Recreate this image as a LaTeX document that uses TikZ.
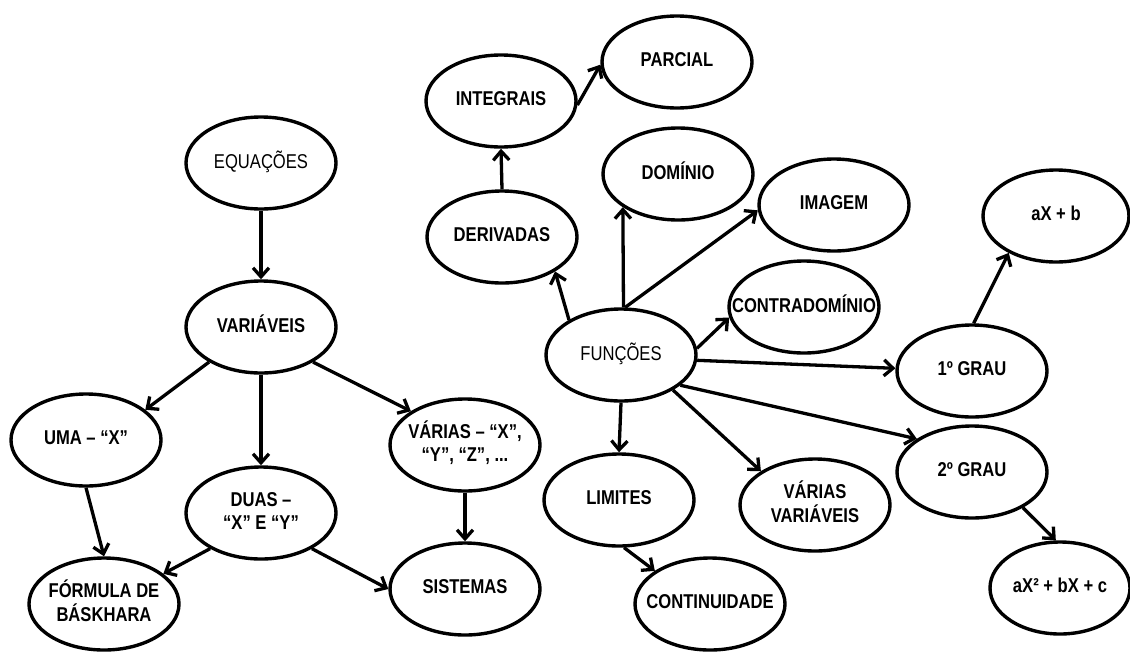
\documentclass[tikz,border=0pt]{standalone}
\usepackage{fontspec}
\setmainfont{Liberation Sans}[FakeStretch=0.83]
\usetikzlibrary{shapes.geometric,arrows.meta}
% label text of fixed-size bubbles: zero width, so the ellipse keeps its size
\newcommand{\lbl}[1]{\makebox[0pt]{\begin{tabular}{@{}c@{}}#1\end{tabular}}}
\tikzset{
  bubble/.style={ellipse, draw, line width=3.4pt, minimum width=150pt,
    minimum height=92pt, inner sep=0pt,
    font=\fontsize{20}{23}\selectfont\bfseries},
  lightbubble/.style={bubble, font=\fontsize{20}{23}\selectfont\mdseries},
  link/.style={line width=3.3pt, -{Straight Barb[length=9pt,width=16pt]}}
}
\begin{document}
\begin{tikzpicture}[x=1pt, y=-1pt]
\useasboundingbox (0,0) rectangle (1130,651);
\fill[white] (0,0) rectangle (1130,651);

% equations branch
\node[lightbubble] (equ)    at (261,163) {\lbl{EQUAÇÕES}};
\node[bubble]      (var)    at (261,327) {\lbl{VARIÁVEIS}};
\node[bubble]      (uma)    at (86,440)  {\lbl{UMA – “X”}};
\node[bubble]      (duas)   at (261,513) {\lbl{DUAS –\\“X” E “Y”}};
\node[bubble]      (varias) at (465,445) {\lbl{VÁRIAS – “X”,\\“Y”, “Z”, ...}};
\node[bubble]      (form)   at (104,604) {\lbl{FÓRMULA DE\\BÁSKHARA}};
\node[bubble]      (sist)   at (465,589) {\lbl{SISTEMAS}};

% functions branch
\node[bubble]      (integ)  at (501,101) {\lbl{INTEGRAIS}};
\node[bubble]      (parc)   at (677,62)  {\lbl{PARCIAL}};
\node[bubble]      (dom)    at (678,174) {\lbl{DOMÍNIO}};
\node[bubble]      (deriv)  at (502,237) {\lbl{DERIVADAS}};
\node[bubble]      (img)    at (834,205) {\lbl{IMAGEM}};
\node[bubble]      (contra) at (804,307) {\lbl{CONTRADOMÍNIO}};
\node[lightbubble] (fun)    at (621,355) {\lbl{FUNÇÕES}};
\node[bubble, minimum width=146pt] (axb) at (1056,216) {\lbl{aX + b}};
\node[bubble]      (g1)     at (972,371) {\lbl{1º GRAU}};
\node[bubble]      (g2)     at (972,472) {\lbl{2º GRAU}};
\node[bubble]      (lim)    at (619,500) {\lbl{LIMITES}};
\node[bubble]      (vv)     at (815,505) {\lbl{VÁRIAS\\VARIÁVEIS}};
\node[bubble]      (cont)   at (710,604) {\lbl{CONTINUIDADE}};
\node[bubble, minimum width=140pt] (axc) at (1060,588) {\lbl{aX² + bX + c}};

% connectors
\draw[link] (equ.south) -- (var.north);
\draw[link] (var.214) -- (uma.27);
\draw[link] (var.south) -- (duas.north);
\draw[link] (var.326) -- (varias.148);
\draw[link] (uma.south) -- (form.north);
\draw[link] (duas.215) -- (form.27);
\draw[link] (duas.325) -- (sist.west);
\draw[link] (varias.south) -- (sist.north);

\draw[link] (deriv.north) -- (integ.south);
\draw[link] (integ.357) -- (parc.182);
\draw[link] (fun.146) -- (deriv.327);
\draw[link] (fun.87) -- (dom.211);
\draw[link] (fun.85) -- (img.184);
\draw[link] (fun.5) -- (contra.188);
\draw[link] (fun.356) -- (g1.178);
\draw[link] (fun.333) -- (g2.149);
\draw[link] (fun.326) -- (vv.148);
\draw[link] (fun.south) -- (lim.north);
\draw[link] (lim.276) -- (cont.149);
\draw[link] (g1.88) -- (axb.218);
\draw[link] (g2.325) -- (axc.95);
\end{tikzpicture}
\end{document}
